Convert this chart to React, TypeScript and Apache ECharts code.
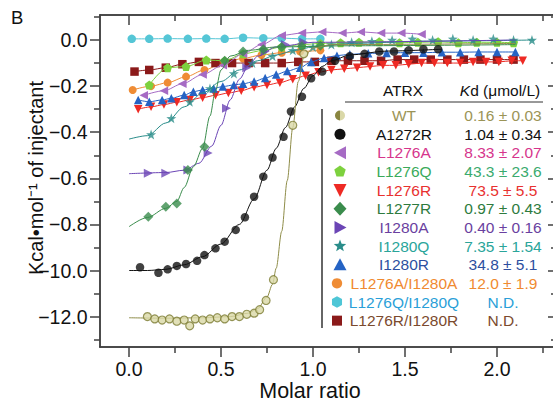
import React, { useEffect, useRef } from 'react';
import * as echarts from 'echarts';

const FONT = "'Liberation Sans', Arial, Helvetica, sans-serif";

// Axis ticks
const xTickValues = [0, 0.5, 1.0, 1.5, 2.0];
const xTickLabels = ['0.0', '0.5', '1.0', '1.5', '2.0'];
const xMinorValues = [0.25, 0.75, 1.25, 1.75, 2.25];
const yTickValues = [0, -0.2, -0.4, -0.6, -0.8, -1.0, -1.2];
const yTickLabels = ['0.0', '\u22120.2', '\u22120.4', '\u22120.6', '\u22120.8', '\u221210.0', '\u221212.0'];
const yMinorValues = [0.1, -0.1, -0.3, -0.5, -0.7, -0.9, -1.1, -1.3];

// Data (molar ratio, kcal/mol of injectant)
const wtPoints = [[0.1, -1.2], [0.14, -1.21], [0.18, -1.215], [0.22, -1.21], [0.26, -1.22], [0.3, -1.215], [0.33, -1.24], [0.36, -1.21], [0.4, -1.215], [0.44, -1.21], [0.48, -1.205], [0.52, -1.21], [0.56, -1.2], [0.6, -1.2], [0.64, -1.19], [0.68, -1.185], [0.71, -1.17], [0.745, -1.13], [0.785, -1.04], [0.89, -0.37], [0.95, -0.06]];
const wtFit = [[0, -1.205], [0.2, -1.207], [0.4, -1.205], [0.55, -1.2], [0.65, -1.185], [0.7, -1.165], [0.75, -1.115], [0.78, -1.06], [0.8, -0.99], [0.83, -0.83], [0.86, -0.61], [0.89, -0.38], [0.92, -0.18], [0.95, -0.075], [1.0, -0.035], [1.1, -0.02], [2.1, -0.015]];

const a1272rPoints = [[0.06, -0.986], [0.16, -1.01], [0.21, -0.995], [0.26, -0.98], [0.31, -0.972], [0.37, -0.958], [0.41, -0.933], [0.47, -0.904], [0.52, -0.875], [0.58, -0.824], [0.63, -0.769], [0.68, -0.68], [0.73, -0.593], [0.78, -0.51], [0.84, -0.42], [0.88, -0.31], [0.94, -0.246], [0.99, -0.166], [1.05, -0.137], [1.12, -0.09], [1.2, -0.07], [1.28, -0.06], [1.36, -0.05], [1.44, -0.05], [1.52, -0.045], [1.6, -0.04], [1.68, -0.04]];
const a1272rFit = [[0, -1.0], [0.1, -1.0], [0.2, -0.995], [0.3, -0.975], [0.4, -0.94], [0.5, -0.885], [0.6, -0.8], [0.68, -0.69], [0.75, -0.565], [0.8, -0.47], [0.85, -0.38], [0.9, -0.29], [0.95, -0.21], [1.0, -0.155], [1.05, -0.115], [1.1, -0.09], [1.2, -0.065], [1.4, -0.048], [1.7, -0.04]];

const l1276aPoints = [[0.08, -0.24], [0.19, -0.22], [0.29, -0.19], [0.4, -0.15], [0.51, -0.11], [0.62, -0.06], [0.72, -0.02], [0.83, 0.02], [0.94, 0.03], [1.05, 0.035], [1.16, 0.03], [1.26, 0.035], [1.37, 0.03], [1.48, 0.03], [1.59, 0.025]];

const l1276qPoints = [[0.11, -0.195], [0.21, -0.12], [0.31, -0.115], [0.42, -0.087], [0.52, -0.09], [0.62, -0.06], [0.73, -0.045], [0.83, -0.03], [0.94, -0.02], [1.04, -0.015], [1.15, -0.012], [1.25, -0.01], [1.36, -0.008], [1.47, -0.012], [1.57, -0.01], [1.68, -0.008], [1.79, -0.012], [1.89, -0.01], [2.0, -0.01], [2.09, -0.012]];

const l1276rPoints = [[0.05, -0.3], [0.12, -0.29], [0.19, -0.28], [0.26, -0.27], [0.33, -0.26], [0.4, -0.25], [0.47, -0.24], [0.54, -0.23], [0.61, -0.22], [0.68, -0.205], [0.75, -0.195], [0.82, -0.185], [0.89, -0.17], [0.96, -0.155], [1.03, -0.14], [1.1, -0.13], [1.17, -0.125], [1.24, -0.12], [1.31, -0.115], [1.38, -0.11], [1.45, -0.11], [1.52, -0.105], [1.59, -0.1], [1.66, -0.1], [1.73, -0.1], [1.8, -0.1], [1.87, -0.095], [1.94, -0.095], [2.01, -0.095], [2.08, -0.09], [2.14, -0.09]];

const l1277rPoints = [[0.105, -0.767], [0.2, -0.723], [0.26, -0.709], [0.32, -0.564], [0.41, -0.463], [0.52, -0.09], [0.62, -0.05], [0.73, -0.04], [0.83, -0.03], [0.94, -0.028], [1.04, -0.025]];
const l1277rFit = [[0, -0.81], [0.1, -0.77], [0.2, -0.73], [0.26, -0.7], [0.3, -0.64], [0.35, -0.55], [0.4, -0.47], [0.44, -0.33], [0.47, -0.22], [0.5, -0.13], [0.55, -0.07], [0.65, -0.045], [0.8, -0.03], [1.2, -0.025], [2.1, -0.02]];

const i1280aPoints = [[0.105, -0.578], [0.2, -0.578], [0.32, -0.564], [0.43, -0.49], [0.53, -0.296], [0.64, -0.12], [0.74, -0.05], [0.85, -0.02], [0.95, -0.01]];
const i1280aFit = [[0, -0.58], [0.2, -0.575], [0.3, -0.565], [0.38, -0.535], [0.45, -0.46], [0.5, -0.37], [0.55, -0.26], [0.6, -0.17], [0.65, -0.11], [0.7, -0.07], [0.8, -0.03], [1.0, -0.01], [2.1, 0.0]];

const i1280qPoints = [[0.12, -0.41], [0.23, -0.34], [0.33, -0.268], [0.44, -0.21], [0.57, -0.145], [0.67, -0.1], [0.78, -0.07], [0.89, -0.045], [1.0, -0.03], [1.1, -0.02], [1.21, -0.01], [1.32, -0.005], [1.43, 0.0], [1.54, 0.005], [1.65, 0.0], [1.76, 0.005], [1.87, 0.0], [1.98, 0.005], [2.09, 0.0], [2.19, 0.0]];
const i1280qFit = [[0, -0.43], [0.1, -0.415], [0.2, -0.36], [0.3, -0.29], [0.4, -0.23], [0.5, -0.18], [0.6, -0.13], [0.7, -0.09], [0.8, -0.065], [0.9, -0.045], [1.0, -0.03], [1.2, -0.015], [1.6, -0.005], [2.2, 0.0]];

const i1280rPoints = [[0.05, -0.26], [0.11, -0.268], [0.18, -0.26], [0.23, -0.253], [0.3, -0.239], [0.35, -0.224], [0.4, -0.217], [0.46, -0.21], [0.51, -0.202], [0.57, -0.195], [0.62, -0.19], [0.68, -0.18], [0.74, -0.165], [0.8, -0.15], [0.86, -0.135], [0.93, -0.12], [0.99, -0.095], [1.06, -0.078], [1.13, -0.068], [1.2, -0.062], [1.3, -0.058], [1.4, -0.056], [1.5, -0.055], [1.6, -0.055], [1.7, -0.053], [1.8, -0.053], [1.9, -0.052], [2.0, -0.052], [2.1, -0.052]];

const l1276ai1280aPoints = [[0.02, -0.217], [0.12, -0.2], [0.21, -0.185], [0.31, -0.159], [0.41, -0.13], [0.51, -0.1], [0.62, -0.08], [0.72, -0.065], [0.83, -0.055], [0.93, -0.05], [1.04, -0.045]];

const l1276qi1280qPoints = [[0.015, 0.005], [0.11, 0.005], [0.21, 0.006], [0.32, 0.005], [0.42, 0.006], [0.52, 0.005], [0.62, 0.01], [0.73, 0.008], [0.83, 0.008], [0.94, 0.005], [1.04, 0.005]];

const l1276ri1280rPoints = [[0.03, -0.137], [0.11, -0.13], [0.2, -0.12], [0.29, -0.105], [0.38, -0.095], [0.47, -0.1], [0.56, -0.1], [0.65, -0.1], [0.74, -0.1], [0.83, -0.1], [0.92, -0.095], [1.01, -0.095], [1.1, -0.09], [1.19, -0.09], [1.28, -0.09], [1.37, -0.09], [1.46, -0.085], [1.55, -0.085], [1.64, -0.085], [1.73, -0.085], [1.82, -0.085], [1.91, -0.085], [2.0, -0.085], [2.09, -0.085]];

// Table
const atrxNames = ['WT', 'A1272R', 'L1276A', 'L1276Q', 'L1276R', 'L1277R', 'I1280A', 'I1280Q', 'I1280R', 'L1276A/I1280A', 'L1276Q/I1280Q', 'L1276R/I1280R'];
const kdValues = ['0.16 \u00b1 0.03', '1.04 \u00b1 0.34', '8.33 \u00b1 2.07', '43.3 \u00b1 23.6', '73.5 \u00b1 5.5', '0.97 \u00b1 0.43', '0.40 \u00b1 0.16', '7.35 \u00b1 1.54', '34.8 \u00b1 5.1', '12.0 \u00b1 1.9', 'N.D.', 'N.D.'];
const nameColors = ['#9b9456', '#111111', '#d6358c', '#3aaa5a', '#e8312f', '#2e7b3e', '#6a3fa0', '#2aa59a', '#2d4fa0', '#f08a30', '#2a9fd8', '#7b4a2e'];
const kdColors = ['#9b9456', '#111111', '#d6358c', '#3aaa6e', '#e8312f', '#2e7b3e', '#6a3fa0', '#2aa59a', '#2d4fa0', '#f08a30', '#2a9fd8', '#7b4a2e'];

const PENTAGON = 'path://M0,-10L9.51,-3.09L5.88,8.09L-5.88,8.09L-9.51,-3.09Z';
const STAR = 'path://M0,-10L2.35,-3.24L9.51,-3.09L3.8,1.24L5.88,8.09L0,4L-5.88,8.09L-3.8,1.24L-9.51,-3.09L-2.35,-3.24Z';

type Spec = {
  name: string; points: number[][]; fit?: number[][]; color: string; lineColor?: string;
  symbol: string; rotate?: number; size?: number; fill?: string;
};

const specs: Spec[] = [
  { name: 'L1276Q/I1280Q', points: l1276qi1280qPoints, color: '#55c6d6', symbol: 'circle', size: 8.5 },
  { name: 'L1276A/I1280A', points: l1276ai1280aPoints, color: '#ef8c35', symbol: 'circle', size: 8 },
  { name: 'L1276R/I1280R', points: l1276ri1280rPoints, color: '#8b1a1a', symbol: 'rect', size: 8.5 },
  { name: 'L1276R', points: l1276rPoints, color: '#ee2a24', symbol: 'triangle', rotate: 180, size: 8.5 },
  { name: 'I1280R', points: i1280rPoints, color: '#2563c4', symbol: 'triangle', size: 8.5 },
  { name: 'L1276Q', points: l1276qPoints, color: '#7dd13e', symbol: PENTAGON, size: 9 },
  { name: 'L1276A', points: l1276aPoints, color: '#a66bc4', symbol: 'triangle', rotate: 90, size: 8.5 },
  { name: 'I1280Q', points: i1280qPoints, fit: i1280qFit, color: '#2a8d8a', symbol: STAR, size: 10 },
  { name: 'I1280A', points: i1280aPoints, fit: i1280aFit, color: '#6b45b5', symbol: 'triangle', rotate: -90, size: 9 },
  { name: 'L1277R', points: l1277rPoints, fit: l1277rFit, color: '#3a8c4c', symbol: 'diamond', size: 10 },
  { name: 'A1272R', points: a1272rPoints, fit: a1272rFit, color: '#111111', symbol: 'circle', size: 8.5 },
  { name: 'WT', points: wtPoints, fit: wtFit, color: '#7d7d35', lineColor: '#8e8c48', symbol: 'circle', size: 8, fill: '#d9d8a6' },
];

function buildSeries() {
  const out: any[] = [];
  specs.forEach((s, i) => {
    const itemStyle: any = { color: s.fill || s.color };
    if (s.fill) { itemStyle.borderColor = s.color; itemStyle.borderWidth = 1.2; }
    if (s.fit) {
      out.push({
        type: 'line', name: s.name + ' fit', data: s.fit, showSymbol: false, symbol: 'none',
        smooth: 0.3, smoothMonotone: 'x', z: 2 + i,
        lineStyle: { color: s.lineColor || s.color, width: 1 }, silent: true,
      });
      out.push({
        type: 'scatter', name: s.name, data: s.points, symbol: s.symbol, symbolSize: s.size || 9,
        symbolRotate: s.rotate || 0, itemStyle, z: 2 + i,
      });
    } else {
      out.push({
        type: 'line', name: s.name, data: s.points, showSymbol: true, showAllSymbol: true,
        symbol: s.symbol, symbolSize: s.size || 9, symbolRotate: s.rotate || 0,
        smooth: 0.3, smoothMonotone: 'x', z: 2 + i,
        lineStyle: { color: s.lineColor || s.color, width: 1 }, itemStyle,
      });
    }
  });
  return out;
}

function txt(x: number, y: number, text: string, fill: string, size: number, extra: any = {}) {
  return {
    type: 'text', x, y, silent: true,
    style: {
      text, fill, fontSize: size, fontFamily: FONT,
      align: 'center', verticalAlign: 'middle', textAlign: 'center', textVerticalAlign: 'middle',
      ...extra,
    },
  };
}

function buildGraphics() {
  const g: any[] = [];
  const FS = 15.5;
  const row0 = 115.5;
  const step = 18.65;
  // Panel label
  g.push({ type: 'text', x: 11, y: 17, silent: true, style: { text: 'B', fill: '#111', fontSize: 18.5, fontFamily: FONT, align: 'left', verticalAlign: 'middle', textAlign: 'left', textVerticalAlign: 'middle' } });
  // Y axis title
  g.push({ type: 'text', x: 36, y: 178, rotation: Math.PI / 2, silent: true, style: { text: 'Kcal\u2022mol\u207b\u00b9 of injectant', fill: '#111', fontSize: 20, fontFamily: FONT, align: 'center', verticalAlign: 'middle', textAlign: 'center', textVerticalAlign: 'middle' } });
  // X axis title
  g.push(txt(310, 390.5, 'Molar ratio', '#111', 21.5));
  // Table header
  g.push(txt(403, 90, 'ATRX', '#111', FS));
  g.push({
    type: 'text', x: 500, y: 90, silent: true,
    style: {
      text: '{i|K}d (\u03bcmol/L)', fill: '#111', fontSize: FS, fontFamily: FONT,
      align: 'center', verticalAlign: 'middle', textAlign: 'center', textVerticalAlign: 'middle',
      rich: { i: { fontStyle: 'italic', fontSize: FS, fontFamily: FONT, fill: '#111' } },
    },
  });
  g.push({ type: 'line', silent: true, shape: { x1: 345, y1: 102, x2: 543, y2: 102 }, style: { stroke: '#333', lineWidth: 1 } });
  g.push({ type: 'line', silent: true, shape: { x1: 322, y1: 109, x2: 322, y2: 328 }, style: { stroke: '#333', lineWidth: 1.5 } });
  atrxNames.forEach((n, i) => {
    const y = row0 + i * step;
    g.push(txt(404, y, n, nameColors[i], FS));
    g.push(txt(503, y, kdValues[i], kdColors[i], FS));
  });
  // Legend symbols
  const sy = (i: number) => row0 + i * step;
  // WT half-filled circle
  g.push({ type: 'sector', silent: true, shape: { cx: 340, cy: sy(0), r: 5, r0: 0, startAngle: Math.PI / 2, endAngle: Math.PI * 1.5 }, style: { fill: '#8a8640' } });
  g.push({ type: 'sector', silent: true, shape: { cx: 340, cy: sy(0), r: 5, r0: 0, startAngle: -Math.PI / 2, endAngle: Math.PI / 2 }, style: { fill: '#dad8a8' } });
  g.push({ type: 'circle', silent: true, shape: { cx: 340, cy: sy(1), r: 5.5 }, style: { fill: '#111' } });
  let y = sy(2);
  g.push({ type: 'polygon', silent: true, shape: { points: [[334, y], [346, y - 6.5], [346, y + 6.5]] }, style: { fill: '#a66bc4' } });
  y = sy(3);
  g.push({ type: 'polygon', silent: true, shape: { points: [[340, y - 6], [345.7, y - 1.9], [343.5, y + 5], [336.5, y + 5], [334.3, y - 1.9]] }, style: { fill: '#7dd13e' } });
  y = sy(4);
  g.push({ type: 'polygon', silent: true, shape: { points: [[333.5, y - 6], [346.5, y - 6], [340, y + 7]] }, style: { fill: '#ee2a24' } });
  y = sy(5);
  g.push({ type: 'polygon', silent: true, shape: { points: [[340, y - 7], [346.5, y], [340, y + 7], [333.5, y]] }, style: { fill: '#3a8c4c' } });
  y = sy(6);
  g.push({ type: 'polygon', silent: true, shape: { points: [[334.5, y - 6.5], [346.5, y], [334.5, y + 6.5]] }, style: { fill: '#6b45b5' } });
  y = sy(7);
  const star: number[][] = [];
  for (let k = 0; k < 10; k++) {
    const r = k % 2 === 0 ? 6.5 : 2.8;
    const a = -Math.PI / 2 + (k * Math.PI) / 5;
    star.push([340 + r * Math.cos(a), y + r * Math.sin(a)]);
  }
  g.push({ type: 'polygon', silent: true, shape: { points: star }, style: { fill: '#2a8d8a' } });
  y = sy(8);
  g.push({ type: 'polygon', silent: true, shape: { points: [[333.5, y + 5.5], [346.5, y + 5.5], [340, y - 6.5]] }, style: { fill: '#2563c4' } });
  g.push({ type: 'circle', silent: true, shape: { cx: 337, cy: sy(9), r: 5.2 }, style: { fill: '#ef8c35' } });
  y = sy(10);
  const hex: number[][] = [];
  for (let k = 0; k < 6; k++) {
    const a = -Math.PI / 2 + (k * Math.PI) / 3;
    hex.push([337 + 5.8 * Math.cos(a), y + 5.8 * Math.sin(a)]);
  }
  g.push({ type: 'polygon', silent: true, shape: { points: hex }, style: { fill: '#4fc6d6' } });
  g.push({ type: 'rect', silent: true, shape: { x: 332, y: sy(11) - 5, width: 10, height: 10 }, style: { fill: '#8b1a1a' } });
  return g;
}

const AXIS_COLOR = '#404040';
const X_MIN = -29 / 184;
const X_MAX = 428 / 184;
const Y_MAX = 25 / 230.5;
const Y_MIN = -307 / 230.5;

function xAxisDef(position: 'bottom' | 'top', values: number[], len: number, labels: boolean, inside: boolean) {
  return {
    type: 'value', position, min: X_MIN, max: X_MAX,
    axisLine: { show: true, onZero: false, lineStyle: { color: AXIS_COLOR, width: 1.5 } },
    axisTick: { show: true, inside, length: len, customValues: values, lineStyle: { color: AXIS_COLOR, width: 1.5 } },
    axisLabel: labels
      ? { show: true, customValues: values, margin: 11.5, fontSize: 19.5, fontFamily: FONT, color: '#111',
          formatter: (v: number) => { const i = xTickValues.findIndex((t) => Math.abs(t - v) < 1e-6); return i >= 0 ? xTickLabels[i] : ''; } }
      : { show: false },
    splitLine: { show: false },
  };
}

function yAxisDef(position: 'left' | 'right', values: number[], len: number, labels: boolean, inside: boolean) {
  return {
    type: 'value', position, min: Y_MIN, max: Y_MAX,
    axisLine: { show: true, onZero: false, lineStyle: { color: AXIS_COLOR, width: 1.5 } },
    axisTick: { show: true, inside, length: len, customValues: values, lineStyle: { color: AXIS_COLOR, width: 1.5 } },
    axisLabel: labels
      ? { show: true, customValues: values, margin: 12.5, fontSize: 19.5, fontFamily: FONT, color: '#111',
          formatter: (v: number) => { const i = yTickValues.findIndex((t) => Math.abs(t - v) < 1e-6); return i >= 0 ? yTickLabels[i] : ''; } }
      : { show: false },
    splitLine: { show: false },
  };
}

export default function App() {
  const ref = useRef<HTMLDivElement>(null);
  useEffect(() => {
    document.body.style.margin = '0';
    if (!ref.current) return;
    const chart = echarts.init(ref.current, undefined, { renderer: 'svg' });
    chart.setOption({
      animation: false,
      backgroundColor: '#ffffff',
      grid: { left: 100, top: 15, right: 0, bottom: 54, containLabel: false, outerBoundsMode: 'none' },
      xAxis: [
        xAxisDef('bottom', xTickValues, 10, true, false),
        xAxisDef('bottom', xMinorValues, 6, false, false),
        xAxisDef('top', xTickValues, 10, false, true),
        xAxisDef('top', xMinorValues, 6, false, true),
      ],
      yAxis: [
        yAxisDef('left', yTickValues, 10, true, false),
        yAxisDef('left', yMinorValues, 6, false, false),
        yAxisDef('right', yTickValues, 9, false, true),
        yAxisDef('right', yMinorValues, 6, false, true),
      ],
      series: buildSeries(),
      graphic: { elements: buildGraphics() },
    } as any);
    return () => chart.dispose();
  }, []);
  return (
    <div style={{ width: 553, height: 401, overflow: 'hidden', position: 'relative' }}>
      <div ref={ref} style={{ width: 557, height: 401, position: 'absolute', left: 0, top: 0 }} />
    </div>
  );
}
